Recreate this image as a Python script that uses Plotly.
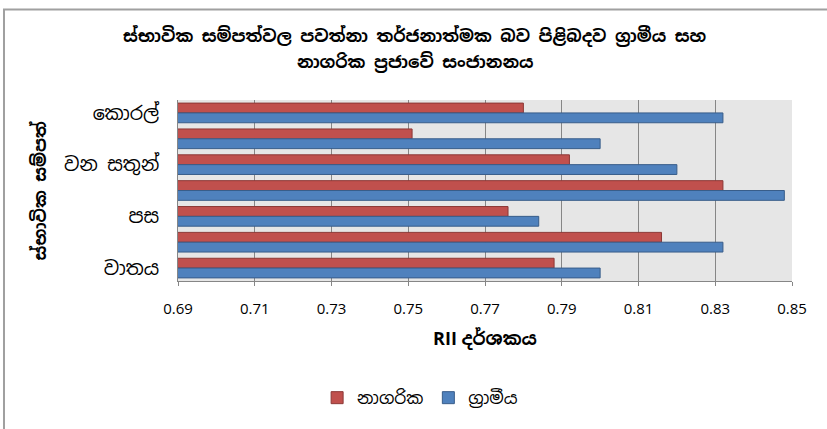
import plotly.graph_objects as go

# Categories, top to bottom (only every other one is labelled in the reference)
categories = ["කොරල්", "ජලය", "වන සතුන්", "වනාන්තර", "පස", "ඛනිජ", "වාතය"]
labelled = ["කොරල්", "වන සතුන්", "පස", "වාතය"]
urban = [0.780, 0.751, 0.792, 0.832, 0.776, 0.816, 0.788]   # නාගරික
rural = [0.832, 0.800, 0.820, 0.848, 0.784, 0.832, 0.800]   # ග්‍රාමීය
x_ticks = [0.69, 0.71, 0.73, 0.75, 0.77, 0.79, 0.81, 0.83, 0.85]
title_lines = ["ස්භාවික සම්පත්වල පවත්නා තර්ජනාත්මක බව පිළිබදව ග්‍රාමීය සහ",
               "නාගරික ප්‍රජාවේ සංජානනය"]

FONT = "Noto Sans Sinhala, Iskoola Pota, Noto Sans, sans-serif"
LATIN_FONT = "Open Sans, Noto Sans Sinhala, sans-serif"

fig = go.Figure()
fig.add_trace(go.Bar(
    y=categories, x=urban, orientation="h", name="නාගරික",
    marker=dict(color="#C0504D", line=dict(color="#8C3836", width=1)),
))
fig.add_trace(go.Bar(
    y=categories, x=rural, orientation="h", name="ග්‍රාමීය",
    marker=dict(color="#4F81BD", line=dict(color="#385D8A", width=1)),
))

fig.update_layout(
    width=827, height=429,
    margin=dict(l=178, r=35, t=100, b=148),
    paper_bgcolor="white",
    plot_bgcolor="#E6E6E6",
    barmode="group",
    bargap=0.24,
    bargroupgap=0.0,
    font=dict(family=FONT, color="#000000"),
    legend=dict(
        orientation="h",
        x=0.508, xref="container", xanchor="center",
        y=0.072, yref="container", yanchor="middle",
        font=dict(size=17, family=FONT),
        itemwidth=30,
        traceorder="normal",
    ),
    showlegend=True,
)

fig.update_xaxes(
    range=[0.69, 0.85],
    tickvals=x_ticks,
    ticktext=[f"{v:.2f}" for v in x_ticks],
    showgrid=True, gridcolor="#868686", gridwidth=1,
    showline=True, linecolor="#868686", linewidth=1,
    ticks="outside", ticklen=4, tickcolor="#868686",
    ticklabelstandoff=10,
    tickfont=dict(size=15, family="Open Sans, sans-serif", color="#000000"),
    zeroline=False,
    title=dict(text="<b>RII දර්ශකය</b>", font=dict(size=18, family=LATIN_FONT), standoff=15),
)
fig.update_yaxes(
    categoryorder="array", categoryarray=categories,
    autorange="reversed",
    tickmode="array", tickvals=labelled, ticktext=labelled,
    showgrid=False,
    showline=True, linecolor="#868686", linewidth=1,
    ticks="", ticklabelstandoff=14,
    tickfont=dict(size=19, family=FONT, color="#000000"),
)

# Title (two centred lines)
for line, ypos in zip(title_lines, [1.359, 1.210]):
    fig.add_annotation(
        text=f"<b>{line}</b>", xref="paper", yref="paper",
        x=0.386, y=ypos, xanchor="center", yanchor="middle", showarrow=False,
        font=dict(size=17, family=FONT, color="#000000"),
    )

# Y axis title
fig.add_annotation(
    text="<b>ස්භාවික සම්පත්</b>", textangle=-90,
    xref="paper", yref="paper", x=-0.2248, y=0.5,
    xanchor="center", yanchor="middle", showarrow=False,
    font=dict(size=17, family=FONT, color="#000000"),
)

# Chart frame (left and top edges visible in the reference; right/bottom fall outside)
fig.add_shape(type="rect", xref="paper", yref="paper",
              x0=-0.2834, x1=1.07, y0=-0.85, y1=1.50,
              line=dict(color="#A0A0A0", width=2), fillcolor="rgba(0,0,0,0)",
              layer="above")

fig.write_html("out.html", config={"displayModeBar": False},
               post_script="document.body.style.margin='0';")
